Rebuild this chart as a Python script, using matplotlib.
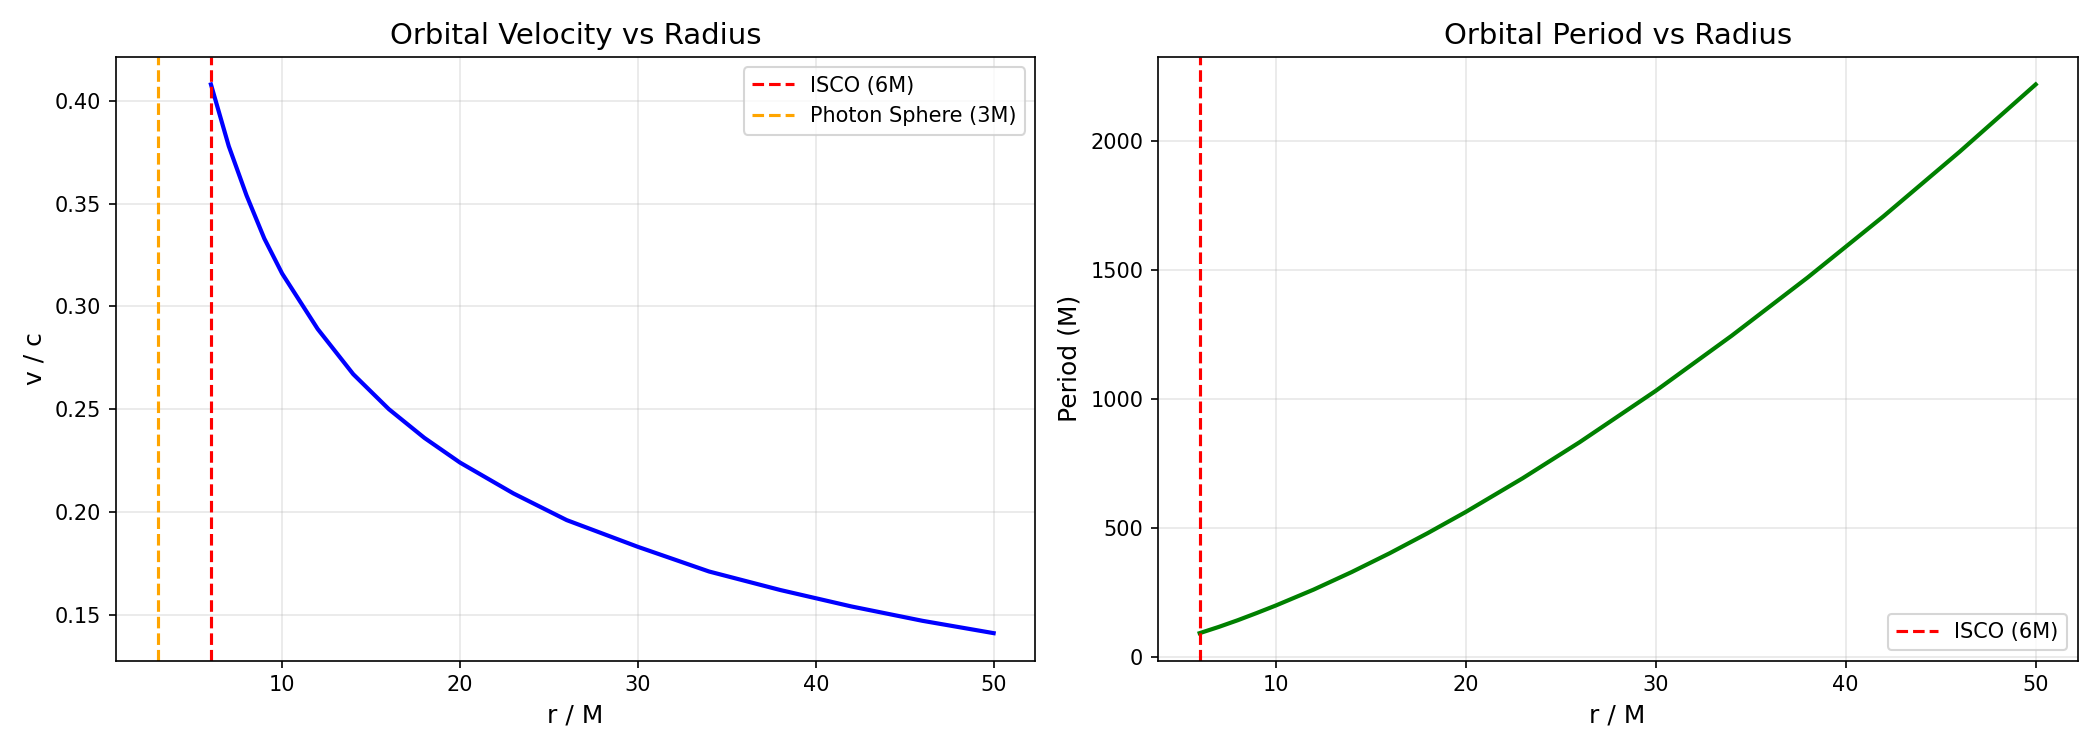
import numpy as np
import matplotlib
matplotlib.use("Agg")
import matplotlib.pyplot as plt

# values
r = [6, 7, 8, 9, 10, 12, 14, 16, 18, 20, 23, 26, 30, 34, 38, 42, 46, 50]
v = [0.408, 0.378, 0.354, 0.333, 0.316, 0.289, 0.267, 0.250, 0.236, 0.224,
     0.209, 0.196, 0.183, 0.171, 0.162, 0.154, 0.147, 0.141]
period = [92, 116, 142, 170, 199, 261, 329, 402, 480, 562,
          693, 833, 1032, 1246, 1472, 1710, 1960, 2221]
isco = 6
photon = 3

fig, (ax1, ax2) = plt.subplots(1, 2, figsize=(14, 5), dpi=150)

ax1.plot(r, v, color='blue', linewidth=2)
ax1.axvline(isco, color='red', linestyle='--', label='ISCO (6M)')
ax1.axvline(photon, color='orange', linestyle='--', label='Photon Sphere (3M)')
ax1.set_xlabel('r / M', fontsize=12)
ax1.set_ylabel('v / c', fontsize=12)
ax1.set_title('Orbital Velocity vs Radius', fontsize=14)
ax1.legend()
ax1.grid(True, alpha=0.3)

ax2.plot(r, period, color='green', linewidth=2)
ax2.axvline(isco, color='red', linestyle='--', label='ISCO (6M)')
ax2.set_xlabel('r / M', fontsize=12)
ax2.set_ylabel('Period (M)', fontsize=12)
ax2.set_title('Orbital Period vs Radius', fontsize=14)
ax2.legend(loc='lower right')
ax2.grid(True, alpha=0.3)

plt.tight_layout()
plt.savefig('out.png')
